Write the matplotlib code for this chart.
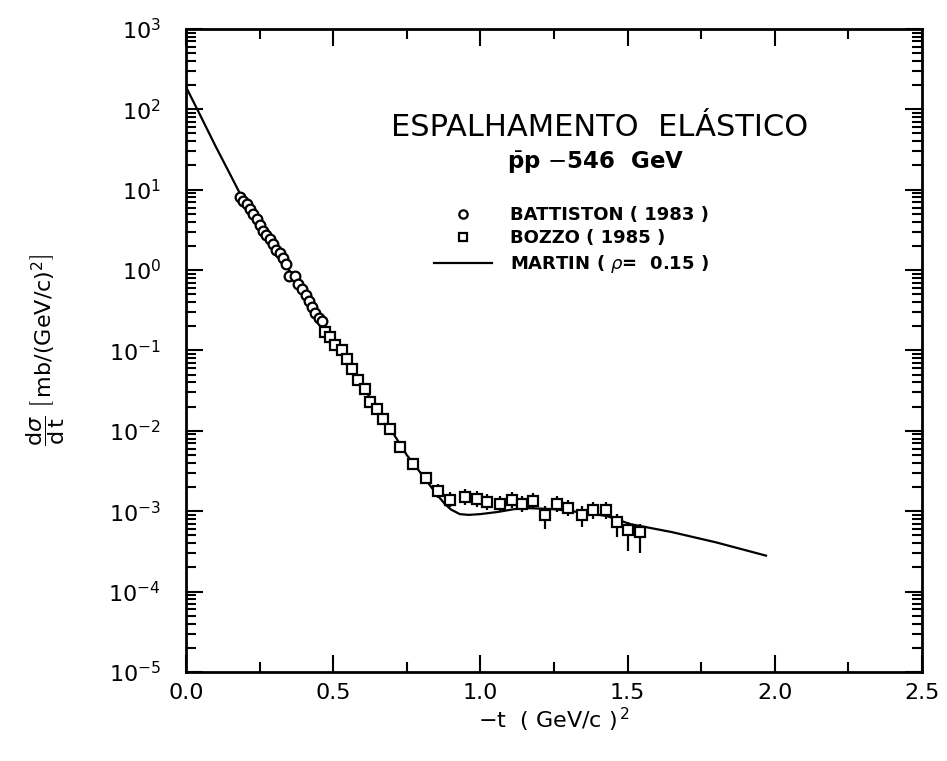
import numpy as np
import matplotlib.pyplot as plt
from matplotlib.lines import Line2D
from matplotlib.ticker import LogLocator, MultipleLocator, FixedFormatter, FixedLocator

# Battiston (1983) - open circles
batt_t = [0.184, 0.194, 0.207, 0.218, 0.228, 0.241, 0.252, 0.262, 0.272, 0.286,
          0.296, 0.306, 0.320, 0.330, 0.340, 0.350, 0.371, 0.381, 0.395, 0.408,
          0.418, 0.429, 0.439, 0.452, 0.463]
batt_y = [8.05, 7.2, 6.6, 5.7, 4.95, 4.3, 3.6, 3.1, 2.7, 2.4,
          2.1, 1.8, 1.63, 1.41, 1.19, 0.85, 0.85, 0.67, 0.58, 0.49,
          0.41, 0.35, 0.29, 0.25, 0.23]

# Bozzo (1985) - open squares
bozzo_t = [0.473, 0.490, 0.507, 0.531, 0.548, 0.565, 0.585, 0.609, 0.626, 0.650,
           0.670, 0.694, 0.728, 0.772, 0.816, 0.857, 0.898, 0.949, 0.990, 1.024,
           1.065, 1.109, 1.143, 1.180, 1.218, 1.259, 1.299, 1.344, 1.384, 1.425,
           1.463, 1.500, 1.541]
bozzo_y = [0.171, 0.148, 0.118, 0.102, 0.079, 0.058, 0.043, 0.033, 0.023, 0.0185,
           0.0139, 0.0104, 0.00625, 0.00385, 0.00258, 0.00178, 0.00138, 0.00150, 0.00142, 0.00130,
           0.00123, 0.00138, 0.00123, 0.00134, 0.00090, 0.00123, 0.00110, 0.00090, 0.00103, 0.00103,
           0.00073, 0.00058, 0.00055]
bozzo_lo = [0]*15 + [0.00030, 0.00025, 0.00030, 0.00028, 0.00026,
                     0.00025, 0.00028, 0.00025, 0.00027, 0.00030, 0.00025, 0.00024, 0.00027, 0.00022, 0.00022,
                     0.00025, 0.00026, 0.00025]
bozzo_hi = [0]*15 + [0.00040, 0.00035, 0.00038, 0.00036, 0.00034,
                     0.00032, 0.00035, 0.00032, 0.00034, 0.00025, 0.00030, 0.00028, 0.00025, 0.00028, 0.00028,
                     0.00020, 0.00015, 0.00015]

# Martin (rho = 0.15) curve
martin_t = [0.0, 0.05, 0.10, 0.15, 0.20, 0.25, 0.30, 0.35, 0.40, 0.45,
            0.50, 0.55, 0.60, 0.65, 0.70, 0.75, 0.80, 0.85, 0.88, 0.90,
            0.93, 0.96, 1.00, 1.06, 1.14, 1.25, 1.36, 1.43, 1.51, 1.65,
            1.80, 1.97]
martin_y = [190, 82, 35, 15.5, 6.8, 3.6, 1.95, 1.0, 0.52, 0.28,
            0.135, 0.075, 0.036, 0.0185, 0.0098, 0.0050, 0.0029, 0.00165, 0.00122, 0.00105,
            0.00092, 0.00090, 0.00092, 0.00098, 0.00110, 0.00106, 0.00095, 0.00087, 0.00069, 0.00055,
            0.00041, 0.00028]

x_ticks = [0.0, 0.5, 1.0, 1.5, 2.0, 2.5]
x_labels = ["0.0", "0.5", "1.0", "1.5", "2.0", "2.5"]

fig = plt.figure(figsize=(9.47, 7.61), dpi=100)
ax = fig.add_axes([0.1964, 0.117, 0.7772, 0.845])

ax.plot(martin_t, martin_y, color="black", lw=1.6)
ax.plot(batt_t, batt_y, ls="none", marker="o", ms=7, mfc="white", mec="black", mew=1.6)
ax.errorbar(bozzo_t, bozzo_y, yerr=[bozzo_lo, bozzo_hi], fmt="s", ms=7.5, mfc="white",
            mec="black", mew=1.6, ecolor="black", elinewidth=1.6, capsize=0)

ax.set_yscale("log")
ax.set_xlim(0, 2.5)
ax.set_ylim(1e-5, 1e3)

ax.xaxis.set_major_locator(FixedLocator(x_ticks))
ax.xaxis.set_major_formatter(FixedFormatter(x_labels))
ax.xaxis.set_minor_locator(MultipleLocator(0.25))
ax.yaxis.set_major_locator(LogLocator(base=10, numticks=20))
ax.yaxis.set_minor_locator(LogLocator(base=10, subs=np.arange(2, 10), numticks=20))

ax.tick_params(which="both", direction="in", top=True, right=True, width=1.5)
ax.tick_params(which="major", length=12, labelsize=16)
ax.tick_params(which="minor", length=7)
ax.tick_params(axis="x", which="major", pad=8, labelsize=16)
ax.tick_params(axis="y", which="major", pad=18)
for s in ax.spines.values():
    s.set_linewidth(2)

ax.set_xlabel(r"$-$t  ( GeV/c )$^{\,2}$", fontsize=16, labelpad=2)
ax.set_ylabel(r"$\dfrac{\mathrm{d}\sigma}{\mathrm{d}\,\mathrm{t}}\ \left[\,\mathrm{mb/(GeV/c)}^{2}\right]$",
              fontsize=16, labelpad=30)

ax.text(0.5625, 0.847, "ESPALHAMENTO  ELÁSTICO", transform=ax.transAxes,
        ha="center", va="center", fontsize=22)
ax.text(0.557, 0.792, r"$\bar{\mathbf{p}}$p $-$546  GeV", transform=ax.transAxes,
        ha="center", va="center", fontsize=16.5, fontweight="bold")

handles = [
    Line2D([], [], ls="none", marker="o", ms=6, mfc="white", mec="black", mew=1.6),
    Line2D([], [], ls="none", marker="s", ms=6, mfc="white", mec="black", mew=1.6),
    Line2D([], [], color="black", lw=1.6),
]
labels = ["BATTISTON ( 1983 )", "BOZZO ( 1985 )", "MARTIN ( $\\rho$=  0.15 )"]
ax.legend(handles, labels, loc="upper left",
          bbox_to_anchor=(425 / 947, 1 - 197 / 761), bbox_transform=fig.transFigure,
          frameon=False, prop={"size": 13, "weight": "bold"}, handlelength=3.2,
          handletextpad=1.0, labelspacing=0.3, borderpad=0)

plt.savefig("out.png", dpi=100, facecolor="white")
